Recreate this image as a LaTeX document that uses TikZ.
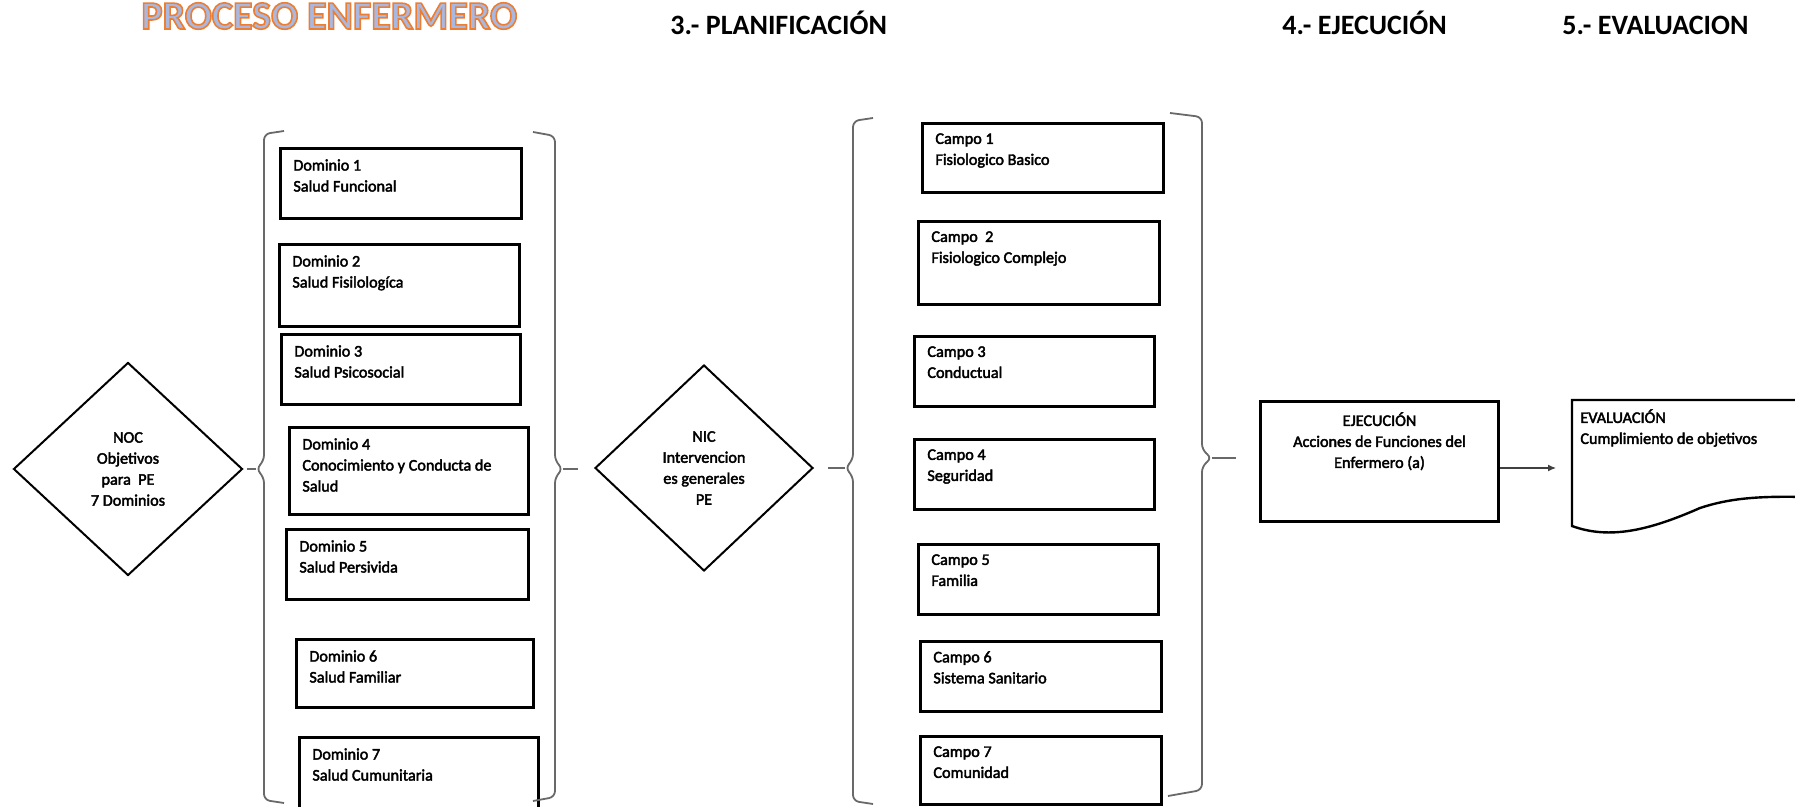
\documentclass[tikz,border=0pt]{standalone}
\usepackage{fontspec}
\setmainfont{Carlito}
\newfontfamily\boxfamily{Carlito}[FakeBold=2.5]
\usetikzlibrary{shapes.geometric, arrows.meta, positioning}

\definecolor{titleorange}{RGB}{237,125,49}
\definecolor{titleblue}{RGB}{168,184,224}
\definecolor{bracegray}{RGB}{105,105,105}

\newcommand{\boxfont}{\boxfamily\fontsize{8.1pt}{10.5pt}\selectfont}
\newcommand{\headfont}{\fontsize{14pt}{17pt}\selectfont\bfseries}
\newcommand{\titlefont}{\fontsize{20pt}{24pt}\selectfont\bfseries}
% orange outline round a light blue fill
\newcommand{\glowtitle}[1]{%
  {\color{titleblue}\special{pdf:literal direct 0.929 0.490 0.192 RG 0.8 w 2 Tr}#1\special{pdf:literal direct 0 Tr}}}

\tikzset{
  fieldbox/.style={draw, line width=1.5pt, rectangle, anchor=north west, inner sep=0pt},
  fieldtext/.style={anchor=north west, align=left, inner sep=0pt, font=\boxfont},
  decision/.style={draw, diamond, line width=1pt, inner sep=0pt, align=center, font=\boxfont},
  bracket/.style={draw=bracegray, line width=0.9pt, rounded corners=3pt},
  tail/.style={draw=bracegray, line width=0.9pt},
  flow/.style={draw=black!75, line width=0.6pt, -{Latex[length=4pt, width=3.5pt]}},
  heading/.style={anchor=base west, inner sep=0pt, font=\headfont}
}

\begin{document}
\begin{tikzpicture}[x=0.5pt, y=-0.5pt]
\useasboundingbox (0,0) rectangle (1795,807);
\clip (0,0) rectangle (1795,807);

% titles
\node[anchor=base west, inner sep=0pt, font=\titlefont] (title) at (141,29) {\glowtitle{PROCESO ENFERMERO}};
\node[heading] (plan) at (670,35) {3.- PLANIFICACIÓN};
\node[heading] (ejec) at (1282,35) {4.- EJECUCIÓN};
\node[heading] (eval) at (1562,35) {5.- EVALUACION};

% NOC
\node[decision, minimum width=114.5pt, minimum height=106.5pt] (noc) at (128,469) {NOC\\Objetivos\\para\ \ PE\\7 Dominios};

% dominios
\node[fieldbox, minimum width=120.5pt, minimum height=35pt] (d1) at (279,147) {};
\node[fieldtext] (d1t) at ([xshift=7pt, yshift=-6pt]d1.north west) {Dominio 1\\Salud Funcional};
\node[fieldbox, minimum width=120pt, minimum height=41pt] (d2) at (278,243) {};
\node[fieldtext] (d2t) at ([xshift=7pt, yshift=-6pt]d2.north west) {Dominio 2\\Salud Fisilologíca};
\node[fieldbox, minimum width=119.5pt, minimum height=35pt] (d3) at (280,333) {};
\node[fieldtext] (d3t) at ([xshift=7pt, yshift=-6pt]d3.north west) {Dominio 3\\Salud Psicosocial};
\node[fieldbox, minimum width=119.5pt, minimum height=43.5pt] (d4) at (288,426) {};
\node[fieldtext] (d4t) at ([xshift=7pt, yshift=-6pt]d4.north west) {Dominio 4\\Conocimiento y Conducta de\\Salud};
\node[fieldbox, minimum width=121pt, minimum height=35pt] (d5) at (285,528) {};
\node[fieldtext] (d5t) at ([xshift=7pt, yshift=-6pt]d5.north west) {Dominio 5\\Salud Persivida};
\node[fieldbox, minimum width=118.5pt, minimum height=34pt] (d6) at (295,638) {};
\node[fieldtext] (d6t) at ([xshift=7pt, yshift=-6pt]d6.north west) {Dominio 6\\Salud Familiar};
\node[fieldbox, minimum width=119.5pt, minimum height=45pt] (d7) at (298,736) {};
\node[fieldtext] (d7t) at ([xshift=7pt, yshift=-6pt]d7.north west) {Dominio 7\\Salud Cumunitaria};

\coordinate (domL) at (256,469);
\coordinate (domR) at (563,469);
\coordinate (domRend) at (578,469);
\draw[bracket] (284,131) -- (264,134) -- (264,461) -- (domL) -- (264,477) -- (264,800) -- (284,803);
\draw[bracket] (533,132) -- (555,136) -- (555,461) -- (domR) -- (555,477) -- (555,797) -- (533,801);
\draw[tail, shorten <=2pt] (noc) -- (domL);
\draw[tail] (domR) -- (domRend);

% NIC
\node[decision, minimum width=109pt, minimum height=103pt] (nic) at (704,468) {NIC\\Intervencion\\es generales\\PE};

% campos
\node[fieldbox, minimum width=120.5pt, minimum height=34.5pt] (c1) at (921,122) {};
\node[fieldtext] (c1t) at ([xshift=7pt, yshift=-5.5pt]c1.north west) {Campo 1\\Fisiologico Basico};
\node[fieldbox, minimum width=120.5pt, minimum height=41.5pt] (c2) at (917,220) {};
\node[fieldtext] (c2t) at ([xshift=7pt, yshift=-5.5pt]c2.north west) {Campo\ \ 2\\Fisiologico Complejo};
\node[fieldbox, minimum width=120pt, minimum height=35pt] (c3) at (913,335) {};
\node[fieldtext] (c3t) at ([xshift=7pt, yshift=-5.5pt]c3.north west) {Campo 3\\Conductual};
\node[fieldbox, minimum width=120pt, minimum height=35pt] (c4) at (913,438) {};
\node[fieldtext] (c4t) at ([xshift=7pt, yshift=-5.5pt]c4.north west) {Campo 4\\Seguridad};
\node[fieldbox, minimum width=120pt, minimum height=35pt] (c5) at (917,543) {};
\node[fieldtext] (c5t) at ([xshift=7pt, yshift=-5.5pt]c5.north west) {Campo 5\\Familia};
\node[fieldbox, minimum width=120.5pt, minimum height=35pt] (c6) at (919,640) {};
\node[fieldtext] (c6t) at ([xshift=7pt, yshift=-5.5pt]c6.north west) {Campo 6\\Sistema Sanitario};
\node[fieldbox, minimum width=120.5pt, minimum height=34pt] (c7) at (919,735) {};
\node[fieldtext] (c7t) at ([xshift=7pt, yshift=-5.5pt]c7.north west) {Campo 7\\Comunidad};

\coordinate (cpL) at (845,468);
\coordinate (cpR) at (1212,458);
\coordinate (cpRend) at (1236,458);
\draw[bracket] (873,118) -- (853,121) -- (853,460) -- (cpL) -- (853,476) -- (853,801) -- (873,804);
\draw[bracket] (1170,113) -- (1202,117) -- (1202,450) -- (cpR) -- (1202,466) -- (1202,790) -- (1168,796);
\draw[tail, shorten <=7pt] (nic) -- (cpL);
\draw[tail] (cpR) -- (cpRend);

% ejecucion y evaluacion
\node[fieldbox, minimum width=119pt, minimum height=60pt] (eje) at (1259,400) {};
\node[fieldtext, anchor=north, align=center] (ejet) at ([yshift=-6pt]eje.north) {EJECUCIÓN\\Acciones de Funciones del\\Enfermero (a)};
\draw[line width=1.2pt] (1572,400) -- (1805,400) -- (1805,497) .. controls (1760,496) and (1730,498) .. (1700,508) .. controls (1650,530) and (1610,540) .. (1572,526) -- cycle;
\node[fieldtext] (evalt) at (1580,409) {EVALUACIÓN\\Cumplimiento de objetivos};
\coordinate (evalIn) at (1556,468);
\draw[flow] (eje.east |- evalIn) -- (evalIn);
\end{tikzpicture}
\end{document}
